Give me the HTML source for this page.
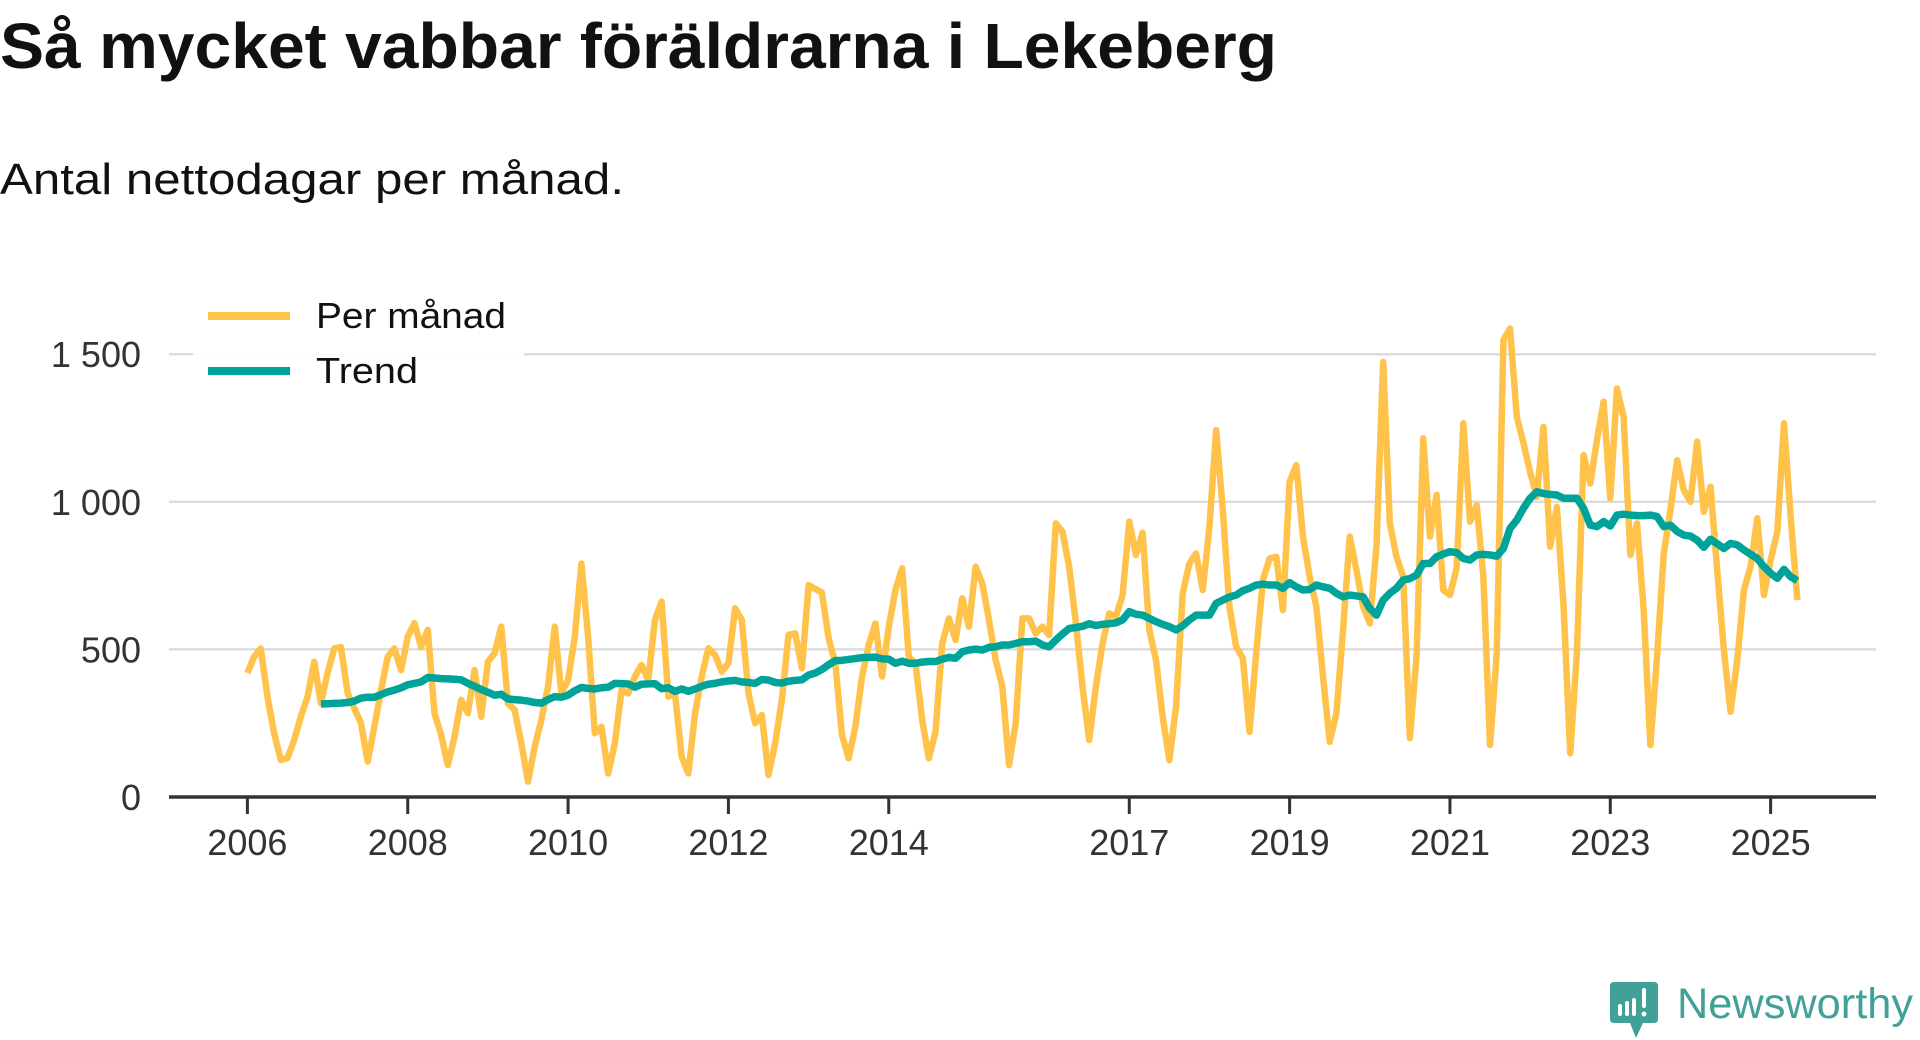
<!DOCTYPE html>
<html><head><meta charset="utf-8"><style>
html,body{margin:0;padding:0;background:#fff;}
svg{display:block;font-family:"Liberation Sans",sans-serif;}
</style></head><body>
<svg id="chart" width="1920" height="1040" viewBox="0 0 1920 1040" xmlns="http://www.w3.org/2000/svg">
<text x="0" y="68" font-size="64" font-weight="bold" fill="#111" textLength="1277" lengthAdjust="spacingAndGlyphs">Så mycket vabbar föräldrarna i Lekeberg</text>
<text x="0" y="194" font-size="44" fill="#111" textLength="624" lengthAdjust="spacingAndGlyphs">Antal nettodagar per månad.</text>
<g id="grid"></g>
<g id="yticks"></g>
<g id="xticks"></g>
<g id="series"></g>
<g>
<rect x="193" y="296" width="331" height="92" fill="#fff" fill-opacity="0.9"/>
<line x1="208" y1="316" x2="290" y2="316" stroke="#FFC24A" stroke-width="8"/>
<text x="316" y="328" font-size="36" fill="#111" textLength="190" lengthAdjust="spacingAndGlyphs">Per månad</text>
<line x1="208" y1="371" x2="290" y2="371" stroke="#00A39A" stroke-width="8"/>
<text x="316" y="383" font-size="36" fill="#111" textLength="102" lengthAdjust="spacingAndGlyphs">Trend</text>
</g>
<g>
<path d="M1614 982 H1654 Q1658 982 1658 986 V1019 Q1658 1023 1654 1023 H1643 L1636 1038 L1630 1023 H1614 Q1610 1023 1610 1019 V986 Q1610 982 1614 982 Z" fill="#41A097"/>
<rect x="1618" y="1004" width="4" height="12" rx="2" fill="#fff"/>
<rect x="1625" y="1001" width="4" height="15" rx="2" fill="#fff"/>
<rect x="1632" y="998" width="4" height="18" rx="2" fill="#fff"/>
<rect x="1642" y="988" width="4" height="20" rx="2" fill="#fff"/>
<circle cx="1644" cy="1014" r="2.5" fill="#fff"/>
<text x="1677" y="1018" font-size="43" fill="#41A097" textLength="236" lengthAdjust="spacingAndGlyphs">Newsworthy</text>
</g>
</svg>
<script>
const perManad = [420,475,503,340,216,125,132,193,272,340,458,318,
420,503,508,352,300,250,120,238,362,475,503,430,
543,589,509,566,284,210,108,204,329,284,430,272,
458,487,577,317,295,182,52,170,261,374,577,351,
396,543,791,543,216,238,80,182,362,351,408,447,
396,600,662,340,351,137,80,283,408,504,481,425,
453,639,600,351,250,278,75,182,329,549,554,436,
718,705,692,538,453,210,131,238,408,515,588,408,
577,701,775,475,453,261,131,221,520,605,532,673,
577,780,724,600,464,374,108,250,605,605,554,577,
549,927,899,780,590,374,193,374,520,622,611,684,
933,820,895,566,464,272,125,306,690,791,825,701,
916,1243,972,645,509,470,221,487,735,808,814,633,
1068,1124,882,746,645,408,187,283,566,882,769,645,
588,848,1474,927,814,746,199,475,1215,882,1023,701,
684,775,1266,933,989,746,176,481,1548,1587,1288,1200,
1100,1017,1254,848,983,650,148,487,1158,1062,1209,1339,
1012,1384,1288,820,927,633,176,475,825,972,1141,1040,
1000,1204,966,1051,769,498,289,464,701,780,944,684,
803,899,1266,949,667];
const trendStart = 11;
const trend = [315,316,317,318,320,325,335,338,338,347,356,362,370,
380,385,390,405,403,401,400,399,397,385,375,364,
355,345,348,332,330,328,325,320,318,330,340,338,
345,360,371,368,366,370,372,385,384,383,372,382,
383,384,367,370,358,366,358,366,375,382,385,390,
393,395,390,388,385,398,396,388,386,392,395,397,
413,420,432,448,462,463,466,469,472,473,474,468,
467,453,460,453,453,457,459,459,467,473,470,492,
498,501,498,507,509,515,515,520,526,526,528,515,
509,532,552,571,574,578,587,581,585,587,590,600,
628,619,616,605,594,585,577,566,580,600,616,616,
616,656,667,678,684,699,707,718,721,718,718,707,
726,712,701,703,718,712,707,690,678,684,681,678,
639,616,667,690,707,735,740,752,791,791,814,823,
831,828,808,803,820,822,820,816,842,910,938,978,
1012,1034,1028,1025,1023,1012,1012,1012,978,921,916,933,
918,955,958,955,953,953,955,950,916,921,900,887,
884,870,846,873,858,842,859,854,837,822,808,780,
758,741,771,746,733];
const yTicks = [0,500,1000,1500];
const yTickLabels = ["0","500","1 000","1 500"];
const xTickYears = [2006,2008,2010,2012,2014,2017,2019,2021,2023,2025];

const NS = "http://www.w3.org/2000/svg";
const X0 = 247.4, PER_YEAR = 80.17;
function xScale(monthIndex){ return X0 + monthIndex * PER_YEAR / 12; }
function xYear(y){ return X0 + (y - 2006) * PER_YEAR; }
function yScale(v){ return 797 - v * (147.6 / 500); }
function mk(tag, attrs, parent){ const e = document.createElementNS(NS, tag); for (const k in attrs) e.setAttribute(k, attrs[k]); parent.appendChild(e); return e; }

const grid = document.getElementById('grid');
const yt = document.getElementById('yticks');
yTicks.forEach((v, i) => {
  if (v > 0) {
    const g = mk('line', {x1:169, x2:1876, y1:yScale(v), y2:yScale(v), stroke:'#dddddd', 'stroke-width':2.5}, grid);
    
    
  }
  const t = mk('text', {x:141, y:yScale(v)+13, 'font-size':36, fill:'#333', 'text-anchor':'end'}, yt);
  
  
  t.textContent = yTickLabels[i];
});
const xt = document.getElementById('xticks');
const ax = mk('line', {x1:169, x2:1876, y1:797, y2:797, stroke:'#333', 'stroke-width':3.5}, xt);


xTickYears.forEach(yr => {
  const x = xYear(yr);
  const tk = mk('line', {x1:x, x2:x, y1:797, y2:814, stroke:'#333', 'stroke-width':3}, xt);
  
  
  const t = mk('text', {x:x, y:855, 'font-size':36, fill:'#333', 'text-anchor':'middle'}, xt);
  
  
  t.textContent = String(yr);
});
const series = document.getElementById('series');
const p1 = mk('path', {d: perManad.map((v,i)=>(i?'L':'M')+xScale(i).toFixed(2)+' '+yScale(v).toFixed(2)).join(' '), fill:'none', stroke:'#FFC24A', 'stroke-width':6.5, 'stroke-linejoin':'round'}, series);


const p2 = mk('path', {d: trend.map((v,i)=>(i?'L':'M')+xScale(i+trendStart).toFixed(2)+' '+yScale(v).toFixed(2)).join(' '), fill:'none', stroke:'#00A39A', 'stroke-width':7.5, 'stroke-linejoin':'round'}, series);


</script>
</body></html>
